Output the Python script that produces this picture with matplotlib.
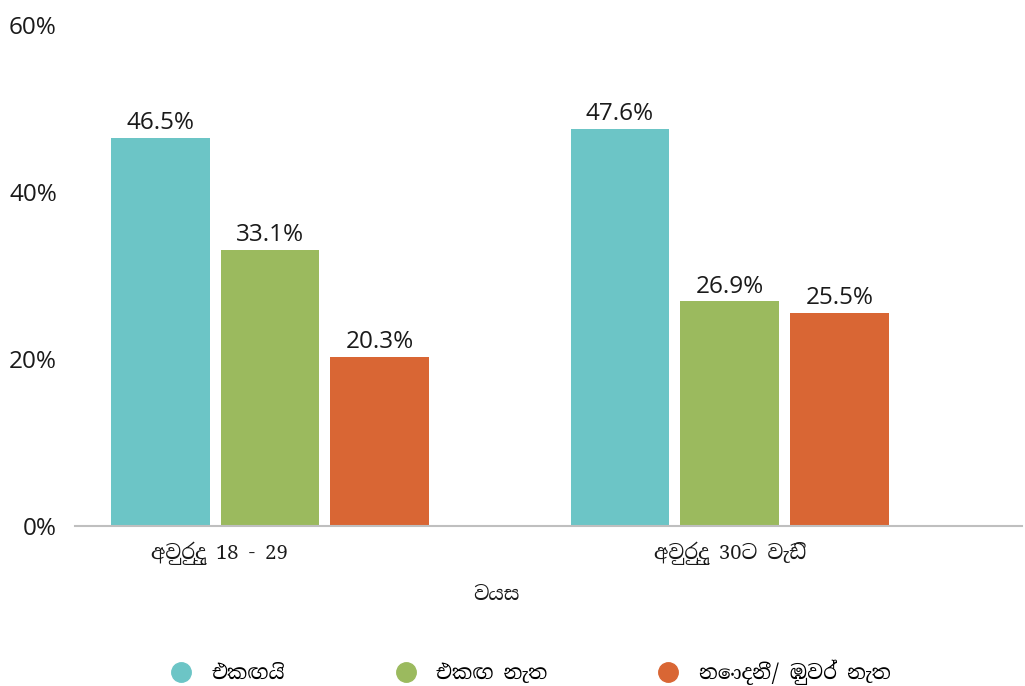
import matplotlib
matplotlib.use('Agg')
import matplotlib.pyplot as plt
from matplotlib.lines import Line2D
import numpy as np

# data
groups = ['අවුරුදු 18 - 29          ', 'අවුරුදු 30ට වැඩි']
series = ['එකඟයි', 'එකඟ නැත', 'නොදනී/ ඹුවර් නැත']
agree = [46.5, 47.6]
disagree = [33.1, 26.9]
dont_know = [20.3, 25.5]
colors = ['#6cc5c6', '#9bba5e', '#d96634']

num_font = ['Open Sans', 'DejaVu Sans']
sin_font = ['Noto Serif Sinhala', 'Noto Sans Sinhala', 'DejaVu Sans']

fig = plt.figure(figsize=(10.25, 6.86), dpi=100)
ax = fig.add_axes([0.0732, 0.2332, 0.9238, 0.7304])

x = np.arange(len(groups))
width = 0.215
step = 0.239
values = [agree, disagree, dont_know]
for i, vals in enumerate(values):
    bars = ax.bar(x + (i - 1) * step, vals, width, color=colors[i], label=series[i])
    for b, v in zip(bars, vals):
        ax.annotate(f'{v:.1f}%', (b.get_x() + b.get_width() / 2, v),
                    xytext=(0, 2), textcoords='offset points',
                    ha='center', va='bottom', fontsize=17.5, family=num_font,
                    color='#1a1a1a')

ax.set_xlim(-0.424, 1.635)
ax.set_ylim(0, 60)
ax.set_yticks([0, 20, 40, 60])
ax.set_yticklabels(['0%', '20%', '40%', '60%'], family=num_font, fontsize=17.5, color='#1a1a1a')
ax.set_xticks(x)
ax.set_xticklabels(groups, family=sin_font, fontsize=14.5, color='#1a1a1a')
ax.tick_params(axis='both', length=0)
ax.tick_params(axis='x', pad=11)
ax.tick_params(axis='y', pad=13)
for s in ['top', 'right', 'left']:
    ax.spines[s].set_visible(False)
ax.spines['bottom'].set_color('#bfbfbf')
ax.spines['bottom'].set_linewidth(1.5)
ax.set_xlabel('වයස', family=sin_font, fontsize=14, color='#1a1a1a')
ax.xaxis.set_label_coords(0.445, -0.118)

handles = [Line2D([0], [0], marker='o', linestyle='', markersize=14,
                  markerfacecolor=c, markeredgecolor=c) for c in colors]
fig.legend(handles, series, loc='lower center', bbox_to_anchor=(0.518, -0.025),
           ncol=3, frameon=False, columnspacing=5.5, handlelength=1.0,
           handletextpad=1.0, prop={'family': sin_font, 'size': 14.5})

fig.savefig('out.png', dpi=100)
